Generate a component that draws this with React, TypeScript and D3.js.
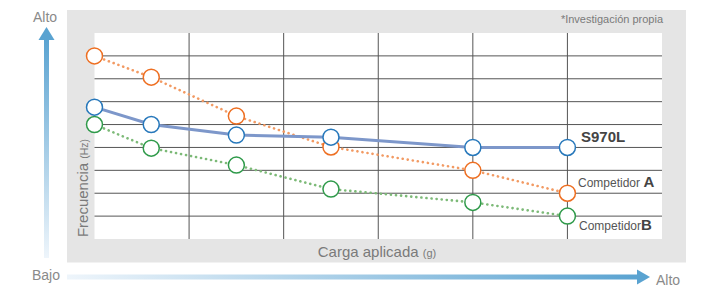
import * as d3 from 'd3';

// carga aplicada (posición en rejilla) y frecuencia relativa
const loads = [0, 0.6, 1.5, 2.5, 4, 5];
const s970l = [5.76, 5.0, 4.54, 4.45, 4.0, 4.0];
const competidorA = [8.0, 7.07, 5.37, 4.02, 3.0, 2.0];
const competidorB = [5.0, 3.97, 3.23, 2.18, 1.6, 1.0];
const xGrid = [1, 2, 3, 4, 5];
const yGrid = [1, 2, 3, 4, 5, 6, 7, 8];

const FONT = "'Liberation Sans', Arial, Helvetica, sans-serif";

export default function App() {
  const width = 703;
  const height = 288;
  const plot = { left: 94.5, right: 662, top: 33, bottom: 239 };

  const x = d3.scaleLinear().domain([0, 6]).range([plot.left, plot.right]);
  const y = d3.scaleLinear().domain([0, 9]).range([plot.bottom, plot.top]);

  const line = d3.line<number>()
    .x((_, i) => x(loads[i]))
    .y((d) => y(d));

  const series = [
    { name: 'A', values: competidorA, stroke: '#ee6f22', lineColor: '#f29a63', dotted: true },
    { name: 'B', values: competidorB, stroke: '#2f9a4a', lineColor: '#7dba78', dotted: true },
    { name: 'S970L', values: s970l, stroke: '#2778bb', lineColor: '#7d97ca', dotted: false },
  ];

  return (
    <svg width={width} height={height} style={{ position: 'absolute', left: 0, top: 0 }} fontFamily={FONT}>
      <defs>
        <linearGradient id="vgrad" x1="0" y1="1" x2="0" y2="0">
          <stop offset="0" stopColor="#eef5fb" />
          <stop offset="1" stopColor="#5aa3d1" />
        </linearGradient>
        <linearGradient id="hgrad" x1="0" y1="0" x2="1" y2="0">
          <stop offset="0" stopColor="#eef5fb" />
          <stop offset="1" stopColor="#5aa3d1" />
        </linearGradient>
      </defs>

      {/* panel */}
      <rect x={67} y={10} width={619} height={252.5} fill="#e5e5e5" />
      <rect x={plot.left} y={plot.top} width={plot.right - plot.left} height={plot.bottom - plot.top} fill="#fff" />

      {/* rejilla */}
      {yGrid.map((v) => (
        <line key={'h' + v} x1={plot.left} x2={plot.right} y1={y(v)} y2={y(v)} stroke="#555" strokeWidth={1} />
      ))}
      {xGrid.map((v) => (
        <line key={'v' + v} x1={x(v)} x2={x(v)} y1={plot.top} y2={plot.bottom} stroke="#555" strokeWidth={1} />
      ))}

      {/* flechas */}
      <rect x={44} y={38} width={5} height={220} fill="url(#vgrad)" />
      <path d="M46.5,27 L54.5,40 L38.5,40 Z" fill="#5aa3d1" />
      <rect x={67} y={274.5} width={572} height={5} fill="url(#hgrad)" />
      <path d="M650,277 L637,284.5 L637,269.5 Z" fill="#5aa3d1" />

      <text x={45} y={22} textAnchor="middle" fontSize={14} fill="#8a8a8a">Alto</text>
      <text x={46} y={279.5} textAnchor="middle" fontSize={14} fill="#8a8a8a">Bajo</text>
      <text x={656} y={285} fontSize={14} fill="#8a8a8a">Alto</text>

      <text x={663} y={23} textAnchor="end" fontSize={11} fill="#7a7a7a">*Investigación propia</text>

      <text x={377} y={256.5} textAnchor="middle" fontSize={15} fill="#7a7a7a">
        Carga aplicada <tspan fontSize={11}>(g)</tspan>
      </text>
      <text transform="translate(88,188) rotate(-90)" textAnchor="middle" fontSize={15} fill="#7a7a7a">
        Frecuencia <tspan fontSize={10.5}>(Hz)</tspan>
      </text>

      {/* líneas */}
      {series.map((s) => (
        <path
          key={'l' + s.name}
          d={line(s.values) ?? ''}
          fill="none"
          stroke={s.lineColor}
          strokeWidth={s.dotted ? 2.6 : 3}
          strokeDasharray={s.dotted ? '0.1 5' : undefined}
          strokeLinecap={s.dotted ? 'round' : 'butt'}
        />
      ))}
      {series.map((s) =>
        s.values.map((v, i) => (
          <circle key={s.name + i} cx={x(loads[i])} cy={y(v)} r={8} fill="#fff" stroke={s.stroke} strokeWidth={1.5} />
        ))
      )}

      {/* etiquetas */}
      <text x={581} y={142} fontSize={15} fontWeight="bold" fill="#444">S970L</text>
      <text x={578} y={187} fontSize={12} fill="#555">
        Competidor <tspan fontSize={15} fontWeight="bold" fill="#444">A</tspan>
      </text>
      <text x={579} y={229.5} fontSize={12} fill="#555">
        Competidor<tspan fontSize={15} fontWeight="bold" fill="#444">B</tspan>
      </text>
    </svg>
  );
}
